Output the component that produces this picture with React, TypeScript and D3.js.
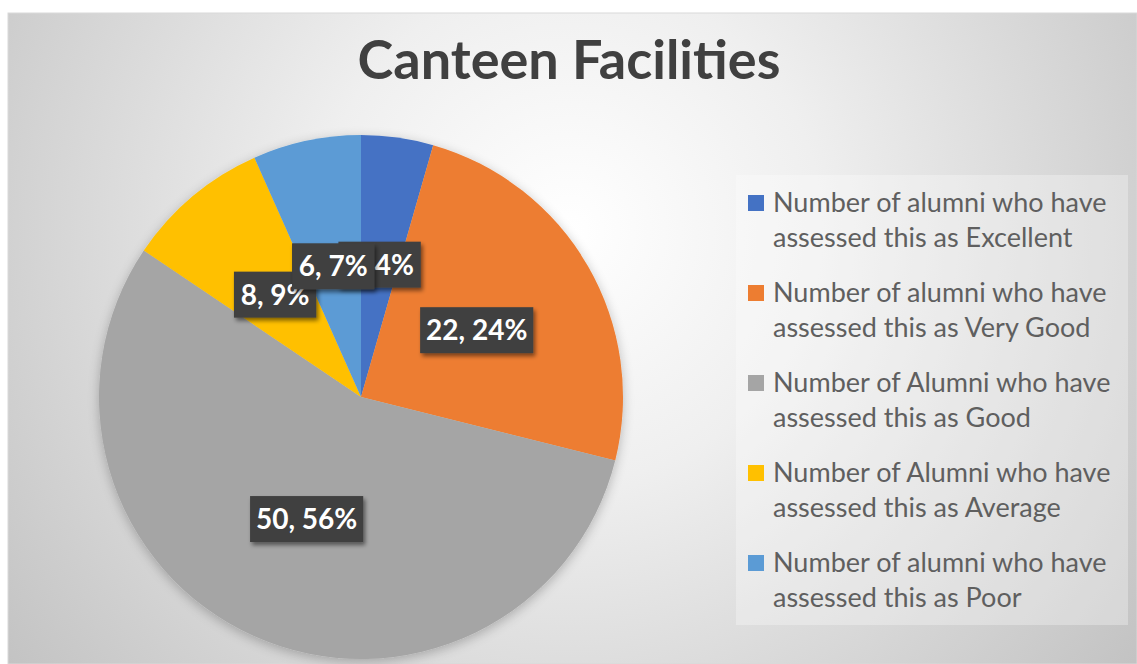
import React from "react";
import * as d3 from "d3";

const categories = [
  "Number of alumni who have|assessed this as Excellent",
  "Number of alumni who have|assessed this as Very Good",
  "Number of Alumni who have|assessed this as Good",
  "Number of Alumni who have|assessed this as Average",
  "Number of alumni who have|assessed this as Poor",
];
const values = [4, 22, 50, 8, 6];
const colors = ["#4472C4", "#ED7D31", "#A5A5A5", "#FFC000", "#5B9BD5"];
const title = "Canteen Facilities";

const W = 1137;
const H = 664;
const cx = 361;
const cy = 397;
const R = 262;

export default function App() {
  const total = d3.sum(values);
  const pie = d3.pie<number>().sort(null).value((d) => d);
  const arcs = pie(values);
  const arc = d3.arc<d3.PieArcDatum<number>>().innerRadius(0).outerRadius(R);
  const labelArc = d3
    .arc<d3.PieArcDatum<number>>()
    .innerRadius(R * 0.51)
    .outerRadius(R * 0.51);
  const fmt = (v: number) => `${v}, ${Math.round((v / total) * 100)}%`;
  const labelFont = 28;
  const charW = (s: string) =>
    s.split("").reduce((a, c) => a + (c === "," ? 0.27 : c === " " ? 0.22 : c === "%" ? 0.78 : 0.55), 0);

  const legendX = 748;
  const legendY0 = 203;
  const legendStep = 90;
  const legendLine = 35;

  return (
    <svg
      width={W}
      height={H}
      style={{ position: "absolute", left: 0, top: 0, display: "block" }}
    >
      <defs>
        <radialGradient id="bg" gradientUnits="userSpaceOnUse" cx={570} cy={230} r={720}>
          <stop offset="0" stopColor="#ffffff" />
          <stop offset="0.35" stopColor="#efefef" />
          <stop offset="1" stopColor="#c2c2c2" />
        </radialGradient>
        <filter id="pieShadow" x="-20%" y="-20%" width="140%" height="140%">
          <feGaussianBlur in="SourceAlpha" stdDeviation="6" />
          <feOffset dx="0" dy="3" result="b" />
          <feComponentTransfer>
            <feFuncA type="linear" slope="0.25" />
          </feComponentTransfer>
          <feMerge>
            <feMergeNode />
            <feMergeNode in="SourceGraphic" />
          </feMerge>
        </filter>
        <filter id="boxShadow" x="-30%" y="-30%" width="160%" height="160%">
          <feGaussianBlur in="SourceAlpha" stdDeviation="2" />
          <feOffset dx="2" dy="3" result="b" />
          <feComponentTransfer>
            <feFuncA type="linear" slope="0.5" />
          </feComponentTransfer>
          <feMerge>
            <feMergeNode />
            <feMergeNode in="SourceGraphic" />
          </feMerge>
        </filter>
      </defs>
      <rect x={0} y={0} width={W} height={H} fill="#ffffff" />
      <rect x={8} y={13} width={W - 8} height={H - 13} fill="url(#bg)" stroke="#d9d9d9" strokeWidth={1} />

      <text
        x={569}
        y={79}
        textAnchor="middle"
        fontFamily="Lato, 'Open Sans', sans-serif"
        fontWeight={700}
        fontSize={54}
        fill="#404040"
      >
        {title}
      </text>

      <g transform={`translate(${cx},${cy})`} filter="url(#pieShadow)">
        {arcs.map((a, i) => (
          <path key={i} d={arc(a) || ""} fill={colors[i]} />
        ))}
      </g>

      <g transform={`translate(${cx},${cy})`}>
        {arcs.map((a, i) => {
          const [lx, ly] = labelArc.centroid(a);
          const t = fmt(values[i]);
          const tw = charW(t) * labelFont;
          const bw = tw + 16;
          const bh = 46;
          return (
            <g key={i} transform={`translate(${lx},${ly})`}>
              <rect x={-bw / 2} y={-bh / 2} width={bw} height={bh} fill="#404040" filter="url(#boxShadow)" />
              <text
                x={0}
                y={labelFont * 0.36}
                textAnchor="middle"
                fontFamily="Lato, 'Open Sans', sans-serif"
                fontWeight={700}
                fontSize={labelFont}
                fill="#ffffff"
              >
                {t}
              </text>
            </g>
          );
        })}
      </g>

      <rect x={736} y={175} width={392} height={450} fill="#ffffff" fillOpacity={0.3} />
      {categories.map((c, i) => {
        const [l1, l2] = c.split("|");
        const y = legendY0 + i * legendStep;
        return (
          <g key={i}>
            <rect x={legendX} y={y - 8} width={16} height={16} fill={colors[i]} />
            <text
              x={773}
              y={y + 9}
              fontFamily="Lato, 'Open Sans', sans-serif"
              fontSize={27}
              fill="#5f5f5f"
            >
              {l1}
            </text>
            <text
              x={773}
              y={y + 9 + legendLine}
              fontFamily="Lato, 'Open Sans', sans-serif"
              fontSize={27}
              fill="#5f5f5f"
            >
              {l2}
            </text>
          </g>
        );
      })}
    </svg>
  );
}
